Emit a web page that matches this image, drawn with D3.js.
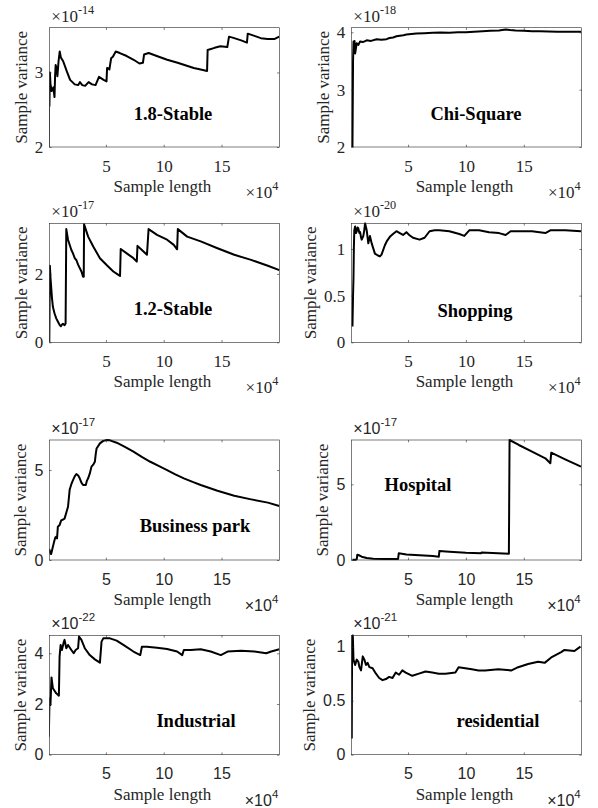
<!DOCTYPE html>
<html><head><meta charset="utf-8">
<script src="https://cdn.jsdelivr.net/npm/d3@7"></script>
<style>body{margin:0;background:#fff}svg{display:block}</style>
</head><body><svg id="c" width="598" height="808"></svg>
<script>
// ---------- data (x in units of 10^4 samples, y in units of 10^exponent) ----------
const xTickValues = [5, 10, 15];
const xLimits = [0.1, 20];
const panelTitles = ["1.8-Stable", "Chi-Square", "1.2-Stable", "Shopping", "Business park", "Hospital", "Industrial", "residential"];
const yExponents = [-14, -18, -17, -20, -17, -17, -22, -21];
const yLimits = [[2, 3.6], [2, 4.08], [0, 3.48], [0, 1.275], [0, 6.67], [0, 7.93], [0, 4.71], [0, 1.105]];
const yTickValues = [[2, 3], [2, 3, 4], [0, 2], [0, 0.5, 1], [0, 5], [0, 5], [0, 2, 4], [0, 0.5, 1]];
const xAxisLabel = "Sample length";
const yAxisLabel = "Sample variance";

const stable18 = [[0.05,2.0],[0.08,3.0],[0.11,2.55],[0.15,3.0],[0.2,2.85],[0.3,2.75],[0.45,2.8],[0.55,2.67],[0.6,2.95],[0.65,3.1],[0.75,3.05],[0.8,2.95],[0.9,3.15],[1.0,3.28],[1.1,3.2],[1.3,3.15],[1.6,3.02],[1.9,2.9],[2.3,2.84],[2.6,2.83],[2.75,2.87],[2.95,2.83],[3.2,2.82],[3.5,2.87],[3.8,2.84],[4.1,2.83],[4.4,2.94],[4.8,2.9],[5.05,2.88],[5.1,3.06],[5.3,3.04],[5.45,3.19],[5.6,3.21],[5.85,3.28],[6.2,3.26],[6.8,3.22],[7.4,3.17],[7.9,3.12],[8.2,3.13],[8.3,3.24],[8.7,3.26],[9.4,3.22],[10.3,3.17],[11.2,3.13],[12.0,3.09],[12.6,3.06],[13.2,3.04],[13.75,3.02],[13.8,3.30],[14.4,3.33],[14.9,3.35],[15.5,3.34],[15.65,3.48],[16.1,3.46],[16.7,3.43],[17.2,3.40],[17.27,3.52],[17.85,3.49],[18.4,3.46],[19.0,3.45],[19.6,3.45],[20.0,3.48]];
const chiSquare = [[0.2,2.0],[0.25,3.5],[0.29,3.84],[0.33,3.7],[0.38,3.85],[0.43,3.63],[0.5,3.72],[0.57,3.81],[0.7,3.78],[0.86,3.84],[1.1,3.83],[1.43,3.86],[1.8,3.85],[2.29,3.88],[2.7,3.87],[3.14,3.88],[3.4,3.9],[3.71,3.91],[4.0,3.93],[4.29,3.94],[4.6,3.95],[4.86,3.96],[5.3,3.97],[5.71,3.98],[6.4,3.985],[7.14,3.99],[7.8,3.995],[8.57,3.99],[9.3,4.0],[10,4.0],[10.7,4.01],[11.43,4.02],[12.1,4.025],[12.86,4.03],[13.43,4.05],[13.8,4.04],[14.29,4.03],[15.0,4.025],[15.71,4.02],[16.4,4.02],[17.14,4.015],[17.9,4.01],[18.57,4.01],[19.3,4.01],[19.94,4.01]];
const stable12 = [[0.1,0],[0.15,2.24],[0.2,1.9],[0.26,1.63],[0.33,1.3],[0.41,1.04],[0.55,0.85],[0.7,0.70],[0.85,0.6],[0.99,0.51],[1.1,0.47],[1.2,0.52],[1.28,0.54],[1.42,0.5],[1.51,0.55],[1.57,3.31],[1.72,3.0],[2.01,2.7],[2.15,2.6],[2.30,2.46],[2.45,2.4],[2.59,2.27],[2.88,2.07],[3.02,1.92],[3.08,1.92],[3.11,3.45],[3.46,3.09],[3.9,2.8],[4.48,2.46],[5.06,2.26],[5.64,2.07],[6.08,1.97],[6.22,1.94],[6.28,2.73],[6.8,2.6],[7.38,2.46],[7.67,2.36],[7.73,2.82],[8.11,2.7],[8.55,2.56],[8.69,3.31],[9.42,3.14],[10.29,3.0],[10.87,2.85],[11.16,2.72],[11.22,3.31],[12.03,3.09],[13.2,2.95],[14.65,2.75],[16.1,2.56],[17.56,2.41],[19.01,2.24],[20.0,2.11]];
const shopping = [[0.2,0.17],[0.25,0.5],[0.29,0.70],[0.32,1.0],[0.36,1.2],[0.43,1.24],[0.5,1.17],[0.57,1.19],[0.64,1.23],[0.71,1.22],[0.8,1.17],[0.86,1.18],[0.95,1.12],[1.0,1.10],[1.14,1.14],[1.22,1.2],[1.29,1.275],[1.43,1.2],[1.57,1.06],[1.71,1.14],[1.86,1.06],[2.14,0.95],[2.4,0.93],[2.57,0.92],[2.71,0.94],[3.0,1.04],[3.2,1.09],[3.43,1.13],[3.7,1.16],[4.0,1.19],[4.29,1.17],[4.57,1.15],[4.86,1.18],[5.1,1.15],[5.43,1.12],[6.0,1.10],[6.43,1.12],[6.86,1.19],[7.3,1.2],[7.71,1.2],[8.57,1.19],[9.43,1.16],[9.86,1.14],[10.29,1.2],[11.14,1.2],[12.0,1.18],[12.86,1.17],[13.43,1.15],[13.86,1.19],[14.57,1.19],[15.71,1.19],[16.86,1.17],[17.29,1.2],[18.57,1.2],[19.94,1.19]];
const businessPark = [[0.05,0.5],[0.12,0.56],[0.2,0.35],[0.26,0.33],[0.41,0.74],[0.55,1.1],[0.62,1.25],[0.70,1.3],[0.77,1.2],[0.84,1.85],[0.99,1.94],[1.13,2.2],[1.3,2.25],[1.42,2.3],[1.6,2.7],[1.72,2.96],[1.86,3.9],[2.0,4.2],[2.15,4.44],[2.3,4.65],[2.44,4.78],[2.6,4.7],[2.73,4.54],[2.88,4.3],[3.02,4.17],[3.26,4.17],[3.35,4.4],[3.46,4.54],[3.6,4.8],[3.75,5.19],[3.9,5.3],[4.04,5.46],[4.12,5.9],[4.19,6.2],[4.48,6.48],[4.77,6.62],[5.1,6.67],[5.35,6.65],[5.93,6.52],[6.6,6.3],[7.38,6.02],[8.1,5.73],[8.84,5.46],[9.6,5.22],[10.29,5.0],[11.0,4.76],[11.74,4.54],[12.5,4.34],[13.2,4.17],[14.65,3.85],[16.1,3.57],[17.56,3.37],[19.01,3.19],[20.0,3.0]];
const hospital = [[0.2,0.02],[0.5,0.02],[0.57,0.05],[0.62,0.35],[0.71,0.33],[1.0,0.22],[1.43,0.13],[2.0,0.09],[2.86,0.07],[4.14,0.07],[4.2,0.44],[4.86,0.37],[6.0,0.31],[7.14,0.26],[7.66,0.22],[7.71,0.6],[8.57,0.55],[10.0,0.48],[11.29,0.44],[11.34,0.5],[12.29,0.46],[13.71,0.42],[13.77,7.93],[14.57,7.6],[15.71,7.16],[16.86,6.72],[17.29,6.39],[17.37,7.09],[18.57,6.65],[19.94,6.17]];
const industrial = [[0.06,0.71],[0.12,2.22],[0.2,1.96],[0.29,3.05],[0.41,2.62],[0.7,2.42],[0.93,2.33],[0.99,3.87],[1.08,4.33],[1.19,4.13],[1.34,4.42],[1.42,4.53],[1.57,4.2],[1.72,4.33],[2.01,4.13],[2.21,4.0],[2.38,4.13],[2.59,4.2],[2.67,4.66],[2.88,4.53],[3.17,4.2],[3.6,3.93],[4.04,3.76],[4.48,3.63],[4.62,4.46],[4.77,4.59],[5.35,4.59],[5.93,4.5],[6.51,4.33],[7.38,4.07],[7.97,3.93],[8.11,4.26],[8.55,4.26],[9.42,4.22],[10.29,4.17],[11.16,4.07],[11.6,3.93],[11.74,4.13],[12.33,4.13],[13.2,4.16],[14.07,4.07],[14.94,3.93],[15.52,4.07],[16.69,4.1],[17.85,4.07],[18.87,4.0],[19.3,4.07],[20.0,4.16]];
const residential = [[0.14,0.15],[0.17,1.09],[0.23,1.105],[0.29,0.88],[0.43,0.83],[0.57,0.88],[0.71,0.86],[0.8,0.81],[0.94,0.78],[1.09,0.91],[1.23,0.88],[1.37,0.83],[1.51,0.85],[1.66,0.81],[1.94,0.8],[2.23,0.75],[2.51,0.71],[2.8,0.69],[3.09,0.70],[3.37,0.72],[3.66,0.71],[3.94,0.76],[4.23,0.74],[4.51,0.78],[4.8,0.76],[5.37,0.73],[5.94,0.75],[6.51,0.77],[7.09,0.76],[7.66,0.75],[8.23,0.75],[9.09,0.76],[9.37,0.81],[9.94,0.8],[10.51,0.79],[11.09,0.78],[11.66,0.78],[12.8,0.79],[13.94,0.78],[14.51,0.81],[15.37,0.84],[16.23,0.86],[16.8,0.85],[17.37,0.9],[18.23,0.95],[18.51,0.97],[19.37,0.96],[19.89,1.0]];

const seriesList = [stable18, chiSquare, stable12, shopping, businessPark, hospital, industrial, residential];

// ---------- layout ----------
const colLeft = [49.3, 351.3], colRight = [279.3, 581.7];
const rowTop = [27.7, 223.3, 440, 635.3], rowBottom = [147, 342.3, 560, 754.7];
const titlePos = [[173, 120], [476, 120], [173, 315], [475, 316.5], [195, 532], [418, 490.5], [196, 726.5], [498, 726.5]];
const SERIF = "'Liberation Serif','Times New Roman',serif";
const SANS = "'Liberation Sans',Arial,sans-serif";
const AX = "#262626";
const TICK = 2.3;

const svg = d3.select("#c");

seriesList.forEach((data, i) => {
  const col = i % 2, row = Math.floor(i / 2);
  const L = colLeft[col], R = colRight[col], T = rowTop[row], B = rowBottom[row];
  const tickFont = row < 2 ? SERIF : SANS;
  const tickSize = row < 2 ? 17 : 16;
  const x = d3.scaleLinear().domain(xLimits).range([L, R]);
  const y = d3.scaleLinear().domain(yLimits[i]).range([B, T]);
  const g = svg.append("g");
  const clipId = "clip" + i;
  svg.append("clipPath").attr("id", clipId).append("rect")
    .attr("x", L).attr("y", T - 1).attr("width", R - L).attr("height", B - T + 2);

  // line
  g.append("path").datum(data)
    .attr("clip-path", `url(#${clipId})`)
    .attr("fill", "none").attr("stroke", "#000").attr("stroke-width", 2)
    .attr("stroke-linejoin", "round")
    .attr("d", d3.line().x(d => x(d[0])).y(d => y(d[1])));

  // axes
  const fmt = d => String(d);
  const gb = g.append("g").attr("transform", `translate(0,${B})`)
    .call(d3.axisBottom(x).tickValues(xTickValues).tickSizeInner(-TICK).tickSizeOuter(0).tickFormat(fmt));
  const gt = g.append("g").attr("transform", `translate(0,${T})`)
    .call(d3.axisTop(x).tickValues(xTickValues).tickSizeInner(-TICK).tickSizeOuter(0).tickFormat(""));
  const gl = g.append("g").attr("transform", `translate(${L},0)`)
    .call(d3.axisLeft(y).tickValues(yTickValues[i]).tickSizeInner(-TICK).tickSizeOuter(0).tickFormat(fmt));
  const gr = g.append("g").attr("transform", `translate(${R},0)`)
    .call(d3.axisRight(y).tickValues(yTickValues[i]).tickSizeInner(-TICK).tickSizeOuter(0).tickFormat(""));
  [gb, gt, gl, gr].forEach(a => {
    a.select(".domain").remove();
    a.selectAll("line").attr("stroke", AX).attr("stroke-width", 0.6);
    a.selectAll("text").attr("fill", AX).style("font-family", tickFont).style("font-size", tickSize + "px");
  });
  gb.selectAll("text").attr("y", 24.5).attr("dy", null);
  gl.selectAll("text").attr("x", -6);

  g.append("rect").attr("x", L).attr("y", T).attr("width", R - L).attr("height", B - T)
    .attr("fill", "none").attr("stroke", AX).attr("stroke-width", 0.6);

  // x label
  g.append("text").attr("x", (L + R) / 2 - 2).attr("y", B + 45)
    .attr("text-anchor", "middle").attr("fill", AX)
    .style("font-family", SERIF).style("font-size", "17px").text(xAxisLabel);
  // x exponent
  const xe = g.append("text").attr("x", R - 1).attr("y", B + 51).attr("text-anchor", "end")
    .attr("fill", AX).style("font-family", tickFont).style("font-size", tickSize + "px");
  xe.append("tspan").text("\u00d710");
  xe.append("tspan").attr("dy", -8).style("font-size", (tickSize * 0.72) + "px").text("4");

  // y label
  let minX = 0;
  gl.selectAll("text").each(function () { const b = this.getBBox(); minX = Math.min(minX, b.x); });
  const yl = L + minX - 8;
  g.append("text").attr("transform", `translate(${yl},${(T + B) / 2}) rotate(-90)`)
    .attr("text-anchor", "middle").attr("fill", AX)
    .style("font-family", SERIF).style("font-size", "17px").text(yAxisLabel);

  // y exponent
  const ye = g.append("text").attr("x", L + 2).attr("y", T - 6)
    .attr("fill", AX).style("font-family", tickFont).style("font-size", tickSize + "px");
  ye.append("tspan").text("\u00d710");
  ye.append("tspan").attr("dy", -8).style("font-size", (tickSize * 0.72) + "px").text(String(yExponents[i]));

  // title
  g.append("text").attr("x", titlePos[i][0]).attr("y", titlePos[i][1]).attr("text-anchor", "middle")
    .attr("fill", "#000").style("font-family", SERIF).style("font-weight", "bold").style("font-size", "18.5px")
    .text(panelTitles[i]);
});
</script>
</body></html>
